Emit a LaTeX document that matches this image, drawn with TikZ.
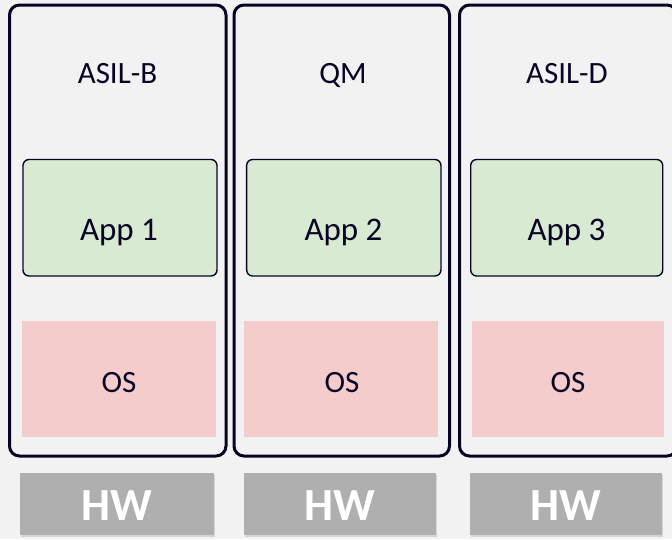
\documentclass[tikz,border=0pt]{standalone}
\usepackage{fontspec}
\setmainfont{Carlito}
\usetikzlibrary{shadows}
\definecolor{bgc}{HTML}{F2F2F2}
\definecolor{navy}{HTML}{0A0424}
\definecolor{appg}{HTML}{D9EAD3}
\definecolor{osp}{HTML}{F4CCCC}
\definecolor{hwg}{HTML}{AFAFAF}
\begin{document}
\begin{tikzpicture}[x=1pt,y=-1pt,
  container/.style={draw=navy,line width=3pt,rounded corners=10pt,inner sep=0pt,fill=bgc},
  appbox/.style={draw=navy,line width=1.4pt,rounded corners=6pt,fill=appg,inner sep=0pt,minimum width=194pt,minimum height=116.5pt},
  osbox/.style={fill=osp,inner sep=0pt,minimum width=194pt,minimum height=116pt},
  hwbox/.style={fill=hwg,inner sep=0pt,minimum height=62pt,drop shadow={shadow xshift=1pt,shadow yshift=-2pt,opacity=0.25}},
  lbl/.style={anchor=base,text=navy,font=\fontsize{31}{36}\selectfont,inner sep=0pt},
  applbl/.style={anchor=base,text=navy,font=\fontsize{33}{38}\selectfont,inner sep=0pt},
  hwlbl/.style={anchor=base,text=white,font=\fontsize{46}{52}\selectfont\bfseries,inner sep=0pt}]
\useasboundingbox (0,0) rectangle (672,539);
\fill[bgc] (0,0) rectangle (672,539);
\clip (0,0) rectangle (672,539);
% containers
\node[container,minimum width=216.5pt,minimum height=451pt] (c1) at (117.75,230.5) {};
\node[container,minimum width=215.5pt,minimum height=451pt] (c2) at (341.75,230.5) {};
\node[container,minimum width=217.5pt,minimum height=451pt] (c3) at (568.25,230.5) {};
% safety labels
\node[lbl] (l1) at (117.5,83) {ASIL-B};
\node[lbl] (l2) at (343,83) {QM};
\node[lbl] (l3) at (567,83) {ASIL-D};
% apps
\node[appbox] (a1) at (120,217.75) {};
\node[appbox,minimum width=194.3pt] (a2) at (343.8,217.75) {};
\node[appbox,minimum width=192pt] (a3) at (566.7,217.75) {};
\node[applbl] (t1) at (119,240) {App 1};
\node[applbl] (t2) at (343.5,240) {App 2};
\node[applbl] (t3) at (566.5,240) {App 3};
% OS
\node[osbox] (o1) at (119,379) {};
\node[osbox] (o2) at (341,379) {};
\node[osbox,minimum width=192pt] (o3) at (568,379) {};
\node[lbl] (s1) at (119,392) {OS};
\node[lbl] (s2) at (342,392) {OS};
\node[lbl] (s3) at (568,392) {OS};
% HW
\node[hwbox,minimum width=194pt] (h1) at (117,504) {};
\node[hwbox,minimum width=192pt] (h2) at (340,504) {};
\node[hwbox,minimum width=192pt] (h3) at (566,504) {};
\node[hwlbl] (w1) at (117,520) {HW};
\node[hwlbl] (w2) at (340,520) {HW};
\node[hwlbl] (w3) at (566,520) {HW};
\end{tikzpicture}
\end{document}
